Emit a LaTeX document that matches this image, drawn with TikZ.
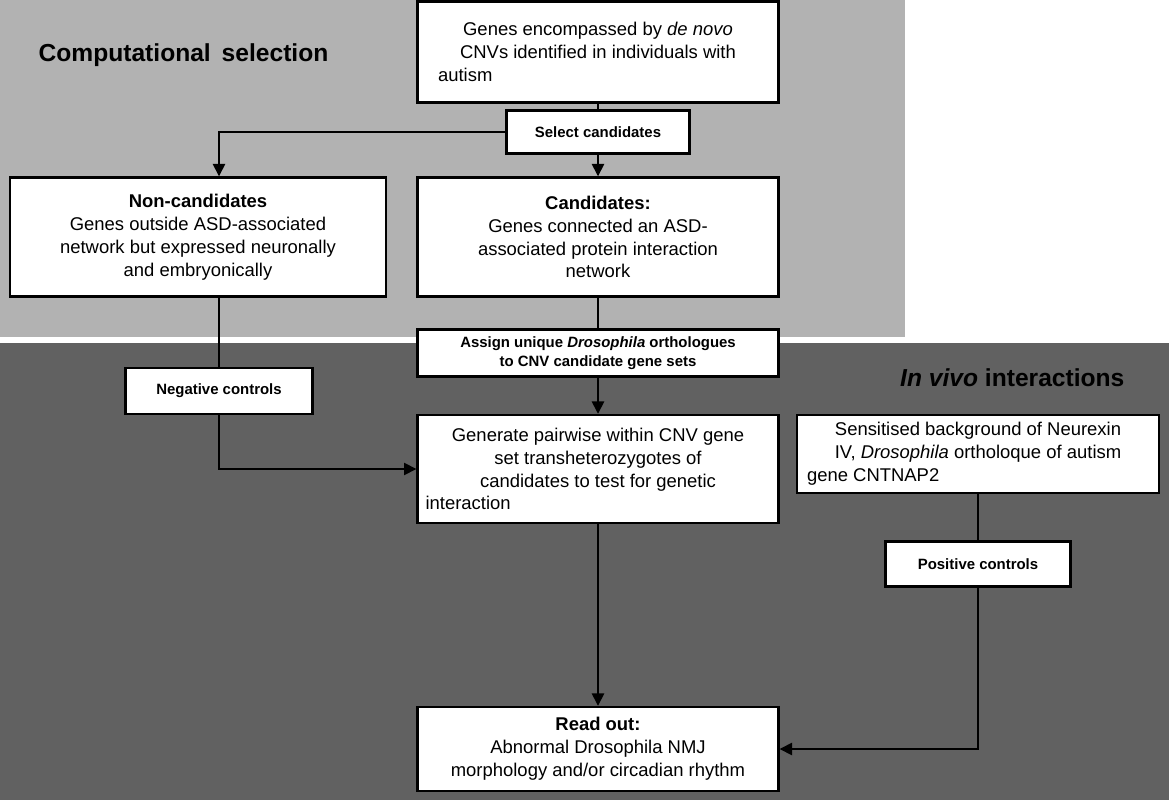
\documentclass[tikz,border=0pt]{standalone}
\usepackage{fontspec}
\setmainfont{Liberation Sans}
\usetikzlibrary{positioning,arrows.meta}
\begin{document}
\begin{tikzpicture}[x=0.02cm,y=-0.02cm,>={Triangle[length=7pt,width=7pt]},line width=0.9pt]
        % Styles
        \tikzstyle{box} = [rectangle, draw, fill=white, line width=1.4pt, align=center, font=\fontsize{10.5}{13}\selectfont, inner sep=2pt]
        \tikzstyle{tag} = [rectangle, draw, fill=white, line width=1.4pt, align=center, font=\fontsize{8.5}{11}\selectfont\bfseries, inner sep=2pt]
        \tikzstyle{line} = [draw, ->]

        % Background
        \fill[white] (0,0) rectangle (1169,800);
        \fill[gray!60] (0,0) rectangle (905,337);
        \fill[black!62] (0,343) rectangle (1169,800);
        \node[anchor=west, font=\fontsize{14}{16}\selectfont\bfseries] (comp) at (32,55) {Computational\, selection};
        \node[anchor=east, font=\fontsize{14}{16}\selectfont\bfseries] (vivo) at (1131,378) {\textit{In vivo} interactions};

        % Nodes
        \node [box, minimum width=7.22cm, minimum height=2.02cm] (cnv) at (598,52) {Genes encompassed by \textit{de novo}\\CNVs identified in individuals with\\\makebox[6.4cm][l]{autism}};
        \node [tag, minimum width=3.66cm, minimum height=0.86cm] (select) at (598,132) {Select candidates};
        \node [box, minimum width=7.52cm, minimum height=2.38cm] (noncand) at (198,237) {\textbf{Non-candidates}\\Genes outside ASD-associated\\network but expressed neuronally\\and embryonically};
        \node [box, minimum width=7.22cm, minimum height=2.38cm] (cand) at (598,237) {\textbf{Candidates:}\\Genes connected an ASD-\\associated protein interaction\\network};
        \node [tag, minimum width=7.22cm, minimum height=0.94cm] (assign) at (598,353) {Assign unique \textit{Drosophila} orthologues\\to CNV candidate gene sets};
        \node [tag, minimum width=3.74cm, minimum height=0.92cm] (neg) at (219,391) {Negative controls};
        \node [box, minimum width=7.22cm, minimum height=2.16cm] (gen) at (598,469) {Generate pairwise within CNV gene\\set transheterozygotes of\\candidates to test for genetic\\\makebox[6.9cm][l]{interaction}};
        \node [box, minimum width=7.24cm, minimum height=1.56cm] (sens) at (978,454) {Sensitised background of Neurexin\\IV, \textit{Drosophila} ortholoque of autism\\\makebox[6.84cm][l]{gene CNTNAP2}};
        \node [tag, minimum width=3.7cm, minimum height=0.9cm] (pos) at (978,564) {Positive controls};
        \node [box, minimum width=7.22cm, minimum height=1.68cm] (read) at (598,749) {\textbf{Read out:}\\Abnormal Drosophila NMJ\\morphology and/or circadian rhythm};
        \coordinate (cL) at (219,132);
        \coordinate (nL) at (219,469);
        \coordinate (pR) at (978,749);

        % Edges
        \draw (cnv) -- (select);
        \path [line] (select) -- (cand);
        \path [line] (select) -- (cL) -- (noncand.north -| cL);
        \draw (noncand.south -| neg) -- (neg);
        \path [line] (neg) -- (nL) -- (gen);
        \draw (cand) -- (assign);
        \path [line] (assign) -- (gen);
        \path [line] (gen) -- (read);
        \draw (sens) -- (pos);
        \path [line] (pos) -- (pR) -- (read);
\end{tikzpicture}
\end{document}
